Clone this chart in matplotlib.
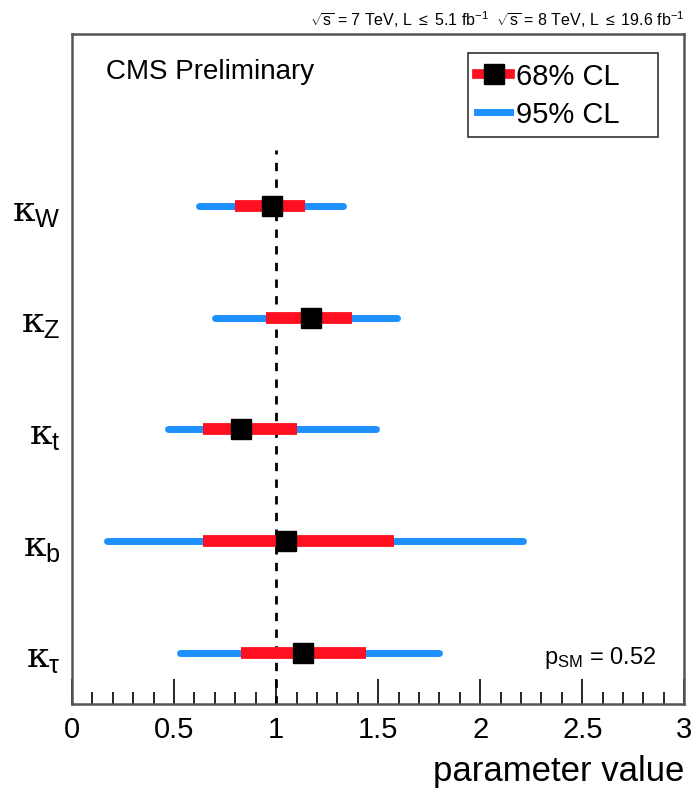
import matplotlib
matplotlib.use("Agg")
import matplotlib.pyplot as plt
from matplotlib.lines import Line2D
from matplotlib.ticker import MultipleLocator, FormatStrFormatter

plt.rcParams['font.family'] = ['Liberation Sans', 'DejaVu Sans']
plt.rcParams['mathtext.fontset'] = 'custom'
plt.rcParams['mathtext.rm'] = 'Liberation Sans'
plt.rcParams['mathtext.it'] = 'Liberation Sans'
plt.rcParams['mathtext.sf'] = 'Liberation Sans'
plt.rcParams['mathtext.tt'] = 'DejaVu Serif'  # only for the kappa glyph

# data (top to bottom)
labels = [r'$\mathtt{\kappa}_\mathrm{W}$', r'$\mathtt{\kappa}_\mathrm{Z}$',
          r'$\mathtt{\kappa}_\mathrm{t}$', r'$\mathtt{\kappa}_\mathrm{b}$',
          r'$\mathtt{\kappa}_\mathrm{\tau}$']
best = [0.98, 1.17, 0.83, 1.05, 1.13]
lo68 = [0.80, 0.95, 0.64, 0.64, 0.83]
hi68 = [1.14, 1.37, 1.10, 1.58, 1.44]
lo95 = [0.62, 0.70, 0.47, 0.17, 0.53]
hi95 = [1.33, 1.59, 1.49, 2.21, 1.80]

red = '#ff1020'
blue = '#1e90ff'

fig = plt.figure(figsize=(6.99, 8.03), dpi=100)
ax = fig.add_axes([0.103, 0.122, 0.876, 0.834])

n = len(labels)
ypos = [n - 1 - i for i in range(n)]

ax.plot([1.0, 1.0], [-0.46, n - 0.5], color='black', lw=2, ls=(0, (3, 3)), zorder=1)
for i in range(n):
    ax.plot([lo95[i], hi95[i]], [ypos[i], ypos[i]], color=blue, lw=5,
            solid_capstyle='round', zorder=2)
    ax.plot([lo68[i], hi68[i]], [ypos[i], ypos[i]], color=red, lw=8.5,
            solid_capstyle='butt', zorder=3)
    ax.plot(best[i], ypos[i], marker='s', color='black', ms=14, zorder=4)

ax.set_xlim(0, 3)
ax.set_ylim(-0.46, n - 1 + 1.54)
ax.set_yticks(ypos)
ax.set_yticklabels(labels, fontsize=26)
ax.tick_params(axis='y', length=0, pad=8)
ax.xaxis.set_major_locator(MultipleLocator(0.5))
ax.xaxis.set_minor_locator(MultipleLocator(0.1))
ax.xaxis.set_major_formatter(FormatStrFormatter('%g'))
ax.tick_params(axis='x', which='major', direction='in', length=18, width=1.2,
               labelsize=21, pad=8)
ax.tick_params(axis='x', which='minor', direction='in', length=9, width=1.2)
for s in ax.spines.values():
    s.set_color('#555555')
    s.set_linewidth(1.8)

ax.set_xlabel('parameter value', fontsize=25, loc='right', labelpad=8)

ax.text(0.055, 0.945, 'CMS Preliminary', transform=ax.transAxes,
        fontsize=20, ha='left', va='center')
ax.text(0.955, 0.07, r'p$_{\mathrm{SM}}$ = 0.52', transform=ax.transAxes,
        fontsize=17, ha='right', va='center')
fig.text(0.979, 0.975,
         r'$\sqrt{s}$ = 7 TeV, L $\leq$ 5.1 fb$^{-1}$  $\sqrt{s}$ = 8 TeV, L $\leq$ 19.6 fb$^{-1}$',
         fontsize=11.5, ha='right', va='center')

handles = [
    Line2D([], [], color=red, lw=7, marker='s', mfc='black', mec='black', ms=14),
    Line2D([], [], color=blue, lw=5),
]
leg = ax.legend(handles, ['68% CL', '95% CL'], loc='upper left',
                bbox_to_anchor=(0.647, 0.0, 0.31, 0.972), mode='expand',
                fontsize=21, handlelength=1.15, handletextpad=0.2,
                borderpad=0.3, labelspacing=0.35, borderaxespad=0,
                fancybox=False, framealpha=1, edgecolor='#333333')
leg.get_frame().set_linewidth(1.2)

fig.savefig('out.png', dpi=100)
